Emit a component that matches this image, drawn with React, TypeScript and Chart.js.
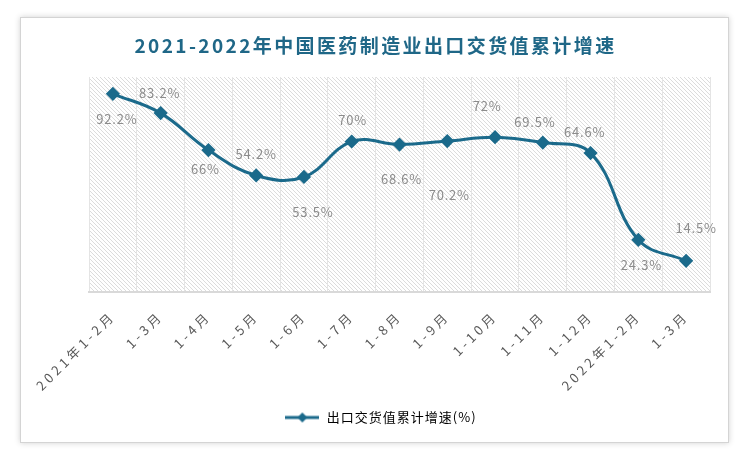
import { useEffect, useRef } from 'react';
import { Chart, registerables } from 'chart.js';

Chart.register(...registerables);

const titleText = '2021-2022年中国医药制造业出口交货值累计增速';
const seriesName = '出口交货值累计增速(%)';
const categories = ['2021年1-2月', '1-3月', '1-4月', '1-5月', '1-6月', '1-7月', '1-8月', '1-9月', '1-10月', '1-11月', '1-12月', '2022年1-2月', '1-3月'];
const growth = [92.2, 83.2, 66, 54.2, 53.5, 70, 68.6, 70.2, 72, 69.5, 64.6, 24.3, 14.5];
const valueLabels = ['92.2%', '83.2%', '66%', '54.2%', '53.5%', '70%', '68.6%', '70.2%', '72%', '69.5%', '64.6%', '24.3%', '14.5%'];

// label offsets relative to each point (style only)
const labelOffsets = [[4, 25], [-1, -20], [-3, 19], [0, -21], [9, 35], [1, -21], [2, 35], [2, 54], [-8, -31], [-8, -21], [-6, -21], [3, 25], [10, -33]];

const LINE = '#1b6a8b';
const FONT = '"Microsoft YaHei", "Noto Sans CJK SC", "Noto Sans", sans-serif';

function makeHatch(): CanvasPattern | string {
  const c = document.createElement('canvas');
  c.width = 4;
  c.height = 4;
  const g = c.getContext('2d');
  if (!g) return '#f4f4f4';
  g.fillStyle = '#ffffff';
  g.fillRect(0, 0, 4, 4);
  g.strokeStyle = '#dcdcdc';
  g.lineWidth = 1;
  g.beginPath();
  g.moveTo(-1, -1);
  g.lineTo(5, 5);
  g.moveTo(-1, 3);
  g.lineTo(1, 5);
  g.moveTo(3, -1);
  g.lineTo(5, 1);
  g.stroke();
  const p = g.createPattern(c, 'repeat');
  return p || '#f4f4f4';
}

function makeLegendIcon(): HTMLCanvasElement {
  const c = document.createElement('canvas');
  c.width = 34;
  c.height = 12;
  const g = c.getContext('2d');
  if (g) {
    g.strokeStyle = LINE;
    g.lineWidth = 3;
    g.beginPath();
    g.moveTo(0, 6);
    g.lineTo(34, 6);
    g.stroke();
    g.fillStyle = LINE;
    g.beginPath();
    g.moveTo(17, 1);
    g.lineTo(22, 6);
    g.lineTo(17, 11);
    g.lineTo(12, 6);
    g.closePath();
    g.fill();
  }
  return c;
}

export default function App() {
  const ref = useRef<HTMLCanvasElement | null>(null);

  useEffect(() => {
    if (!ref.current) return;
    const hatch = makeHatch();
    const icon = makeLegendIcon();

    const hatchPlugin = {
      id: 'hatchBg',
      beforeDraw(chart: any) {
        const { ctx, chartArea } = chart;
        ctx.save();
        ctx.fillStyle = hatch;
        ctx.fillRect(chartArea.left, chartArea.top, chartArea.right - chartArea.left, chartArea.bottom - chartArea.top);
        ctx.restore();
        // legend text spacing
        (ctx as any).letterSpacing = '1px';
      },
    };

    const titlePlugin = {
      id: 'spacedTitle',
      afterDraw(chart: any) {
        const { ctx, width } = chart;
        ctx.save();
        ctx.font = `bold 19px ${FONT}`;
        (ctx as any).letterSpacing = '2.4px';
        ctx.fillStyle = '#1f6787';
        ctx.textAlign = 'center';
        ctx.textBaseline = 'middle';
        ctx.fillText(titleText, width / 2 + 1, 28);
        ctx.restore();
        (ctx as any).letterSpacing = '0px';
      },
    };

    const labelPlugin = {
      id: 'valueLabels',
      afterDatasetsDraw(chart: any) {
        const { ctx } = chart;
        const meta = chart.getDatasetMeta(0);
        ctx.save();
        ctx.font = `13px ${FONT}`;
        (ctx as any).letterSpacing = '0.8px';
        ctx.fillStyle = '#8c8c8c';
        ctx.textAlign = 'center';
        ctx.textBaseline = 'middle';
        meta.data.forEach((pt: any, i: number) => {
          const off = labelOffsets[i] || [0, -20];
          ctx.fillText(valueLabels[i], pt.x + off[0], pt.y + off[1]);
        });
        ctx.restore();
        // x tick labels (drawn after datasets, z: 1) use wide spacing
        (ctx as any).letterSpacing = '3.5px';
      },
    };

    const chart = new Chart(ref.current, {
      type: 'line',
      data: {
        labels: categories,
        datasets: [
          {
            label: seriesName,
            data: growth,
            borderColor: LINE,
            backgroundColor: LINE,
            borderWidth: 3,
            tension: 0.4,
            pointStyle: 'rectRot',
            pointRadius: 5,
            pointHoverRadius: 5,
            pointBackgroundColor: LINE,
            pointBorderColor: LINE,
          },
        ],
      },
      options: {
        animation: false,
        responsive: true,
        maintainAspectRatio: false,
        layout: { padding: { top: 59, left: 0, right: 0, bottom: 8 } },
        scales: {
          x: {
            offset: true,
            afterFit: (scale: any) => {
              scale.height = 109;
            },
            grid: { display: true, color: '#e4e4e4', lineWidth: 1, drawTicks: false, offset: true },
            border: { display: true, color: '#d9d9d9', width: 2 },
            ticks: {
              z: 1,
              color: '#595959',
              font: { size: 13, family: FONT },
              minRotation: 45,
              maxRotation: 45,
              padding: 16,
              autoSkip: false,
            },
          },
          y: {
            display: true,
            position: 'left',
            min: 0,
            max: 100,
            afterFit: (scale: any) => {
              scale.width = 68;
            },
            grid: { display: false },
            border: { display: false },
            ticks: { display: false },
          },
          y2: {
            display: true,
            position: 'right',
            min: 0,
            max: 100,
            afterFit: (scale: any) => {
              scale.width = 18;
            },
            grid: { display: false },
            border: { display: false },
            ticks: { display: false },
          },
        },
        plugins: {
          title: { display: false },
          tooltip: { enabled: false },
          legend: {
            display: true,
            position: 'bottom',
            labels: {
              usePointStyle: true,
              pointStyleWidth: 36,
              color: '#595959',
              font: { size: 13, family: FONT },
              padding: 10,
              generateLabels: () => [
                {
                  text: seriesName,
                  pointStyle: icon as any,
                  fillStyle: LINE,
                  strokeStyle: LINE,
                  lineWidth: 0,
                  hidden: false,
                  datasetIndex: 0,
                },
              ],
            },
          },
        },
      },
      plugins: [hatchPlugin, labelPlugin, titlePlugin],
    });
    return () => chart.destroy();
  }, []);

  return (
    <div style={{ position: 'fixed', left: 0, top: 0, width: 750, height: 461, background: '#ffffff' }}>
      <div
        style={{
          position: 'absolute',
          left: 20,
          top: 17,
          width: 707,
          height: 424,
          border: '1px solid #d4d4d4',
          boxShadow: '0 0 6px rgba(0,0,0,0.18)',
          background: '#ffffff',
        }}
      >
        <canvas ref={ref} style={{ width: '100%', height: '100%' }} />
      </div>
    </div>
  );
}
